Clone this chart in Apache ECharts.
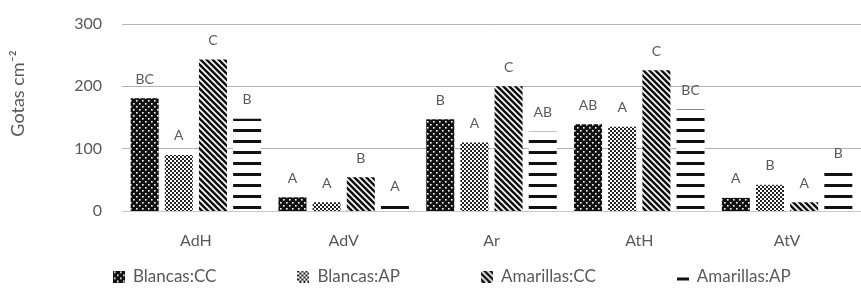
<!DOCTYPE html>
<html>
<head>
<meta charset="utf-8">
<script src="https://cdn.jsdelivr.net/npm/echarts@6/dist/echarts.min.js"></script>
<style>
  html, body { margin: 0; padding: 0; background: #fff; }
  #container { width: 861px; height: 288px; }
</style>
</head>
<body>
<div id="container"></div>
<script>
var categories = ['AdH', 'AdV', 'Ar', 'AtH', 'AtV'];
var seriesNames = ['Blancas:CC', 'Blancas:AP', 'Amarillas:CC', 'Amarillas:AP'];
var blancasCC = [181, 22, 147, 139, 21];
var blancasAP = [90, 14, 110, 135, 42];
var amarillasCC = [243, 54, 200, 226, 14];
var amarillasAP = [148, 9, 127, 163, 61];
var letrasBlancasCC = ['BC', 'A', 'B', 'AB', 'A'];
var letrasBlancasAP = ['A', 'A', 'A', 'A', 'B'];
var letrasAmarillasCC = ['C', 'B', 'C', 'C', 'A'];
var letrasAmarillasAP = ['B', 'A', 'AB', 'BC', 'B'];
var yTicks = [0, 100, 200, 300];

// tiles for the bar fills
function tile(w, h, draw) {
    var c = document.createElement('canvas');
    c.width = w;
    c.height = h;
    var ctx = c.getContext('2d');
    draw(ctx);
    return c;
}

function drawDots(ctx, w, h) {
    ctx.fillStyle = '#111';
    ctx.fillRect(0, 0, w, h);
    ctx.fillStyle = '#fff';
    for (var y = 0; y < h; y += 6) {
        for (var x = 0; x < w; x += 6) {
            ctx.fillRect(x + 1, y + 1, 1.6, 1.6);
            ctx.fillRect(x + 4, y + 4, 1.6, 1.6);
        }
    }
}
function drawChecker(ctx, w, h) {
    ctx.fillStyle = '#fff';
    ctx.fillRect(0, 0, w, h);
    ctx.fillStyle = '#222';
    for (var y = 0; y < h; y += 2) {
        for (var x = (y / 2) % 2 * 2; x < w; x += 4) {
            ctx.fillRect(x, y, 2, 2);
        }
    }
}
function drawDiag(ctx, w, h) {
    ctx.fillStyle = '#111';
    ctx.fillRect(0, 0, w, h);
    ctx.strokeStyle = '#fff';
    ctx.lineWidth = 1.7;
    ctx.beginPath();
    for (var k = -h; k < w + h; k += 6) {
        ctx.moveTo(k - 1, -1);
        ctx.lineTo(k + h + 1, h + 1);
    }
    ctx.stroke();
}

var dots = tile(6, 6, function (ctx) { drawDots(ctx, 6, 6); });
var checker = tile(4, 4, function (ctx) { drawChecker(ctx, 4, 4); });
var diag = tile(6, 6, function (ctx) { drawDiag(ctx, 6, 6); });
var hlines = tile(8, 11, function (ctx) {
    ctx.fillStyle = '#fff';
    ctx.fillRect(0, 0, 8, 11);
    ctx.fillStyle = '#111';
    ctx.fillRect(0, 8, 8, 3);
});

// legend swatches
var iconDots = tile(12, 12, function (ctx) { drawDots(ctx, 12, 12); });
var iconChecker = tile(12, 12, function (ctx) { drawChecker(ctx, 12, 12); });
var iconDiag = tile(12, 12, function (ctx) { drawDiag(ctx, 12, 12); });
var iconDash = tile(12, 12, function (ctx) {
    ctx.fillStyle = '#111';
    ctx.fillRect(0, 7, 12, 3);
});

function pat(c) {
    return { image: c, repeat: 'repeat' };
}

var fills = [pat(dots), pat(checker), pat(diag), pat(hlines)];
var icons = [iconDots, iconChecker, iconDiag, iconDash];
var values = [blancasCC, blancasAP, amarillasCC, amarillasAP];
var letters = [letrasBlancasCC, letrasBlancasAP, letrasAmarillasCC, letrasAmarillasAP];

var myChart = echarts.init(document.getElementById('container'));
var fontFam = 'Lato, "Open Sans", sans-serif';

var series = seriesNames.map(function (name, i) {
    return {
        name: name,
        type: 'bar',
        barWidth: 28,
        barGap: '22%',
        data: values[i],
        itemStyle: { color: fills[i] },
        label: {
            show: true,
            position: 'top',
            distance: 12,
            color: '#595959',
            fontSize: 14,
            fontFamily: fontFam,
            formatter: function (p) {
                return letters[i][p.dataIndex];
            }
        }
    };
});

var option = {
    animation: false,
    backgroundColor: '#fff',
    grid: {
        left: 122,
        top: 24,
        width: 746,
        height: 187
    },
    legend: {
        left: 108,
        top: 263,
        itemGap: 81,
        itemWidth: 12,
        itemHeight: 12,
        textStyle: { color: '#595959', fontSize: 17, fontFamily: fontFam, padding: [0, 0, 0, 3] },
        data: seriesNames.map(function (n, i) {
            return { name: n, icon: 'image://' + icons[i].toDataURL() };
        })
    },
    xAxis: {
        type: 'category',
        data: categories,
        axisLine: { lineStyle: { color: '#c8c8c8' } },
        axisTick: { show: false },
        axisLabel: { color: '#595959', fontSize: 16, fontFamily: fontFam, margin: 22 }
    },
    yAxis: {
        type: 'value',
        min: yTicks[0],
        max: yTicks[yTicks.length - 1],
        interval: 100,
        name: 'Gotas cm\u207B\u00B2',
        nameLocation: 'middle',
        nameGap: 95,
        nameTextStyle: { color: '#595959', fontSize: 18, fontFamily: fontFam, padding: [0, 0, 0, 48] },
        axisLine: { show: false },
        axisTick: { show: false },
        axisLabel: { color: '#595959', fontSize: 16, fontFamily: fontFam, margin: 20 },
        splitLine: { lineStyle: { color: '#b4b4b4' } }
    },
    series: series
};

myChart.setOption(option, true);
window.onresize = function () {
    myChart.resize();
};
</script>
</body>
</html>
